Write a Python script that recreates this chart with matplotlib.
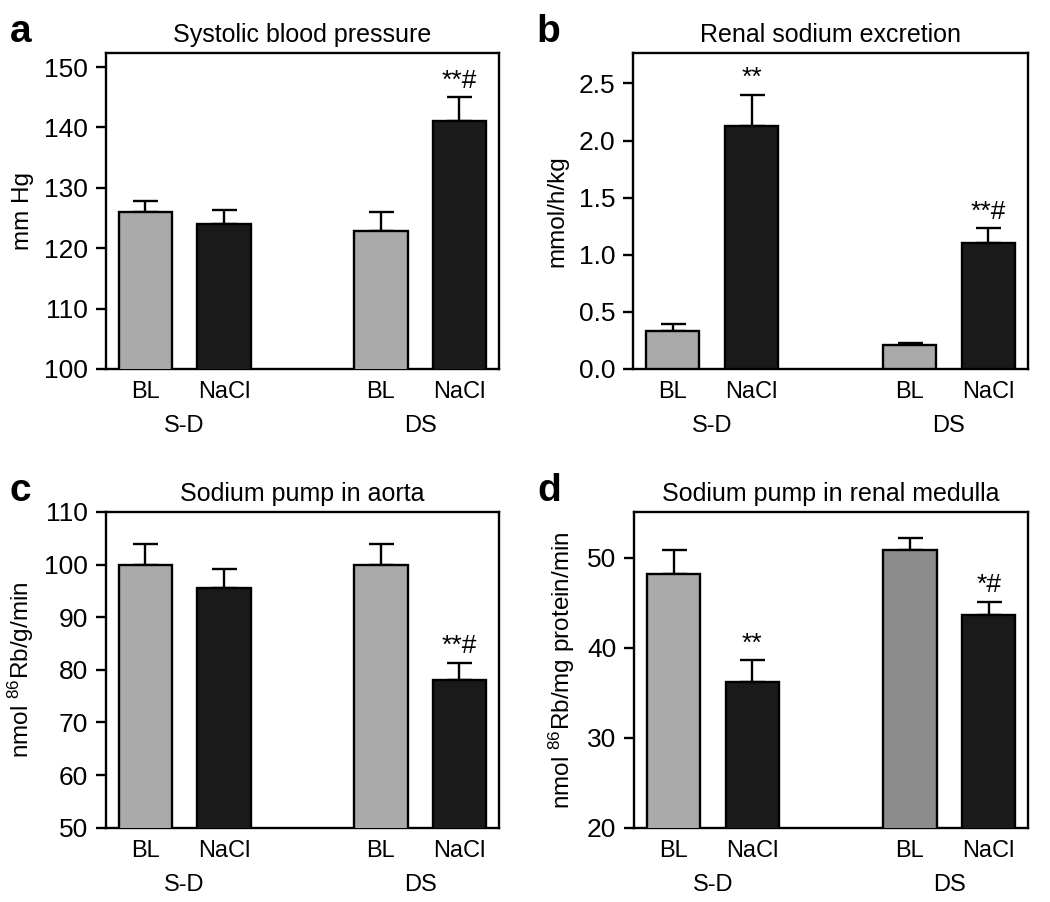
import matplotlib
matplotlib.use("Agg")
import matplotlib.pyplot as plt
import matplotlib.transforms as mtransforms

plt.rcParams['font.family'] = ['Liberation Sans', 'DejaVu Sans']
plt.rcParams['mathtext.default'] = 'regular'

# bar labels and groups
bar_labels = ["BL", "NaCl", "BL", "NaCl"]
group_labels = ["S-D", "DS"]

# values (mean, upper SEM end)
sbp = [126.0, 124.0, 122.9, 141.0]
sbp_top = [127.8, 126.4, 126.0, 145.0]

una = [0.33, 2.13, 0.21, 1.105]
una_top = [0.39, 2.40, 0.23, 1.23]

aorta = [100.0, 95.5, 100.0, 78.0]
aorta_top = [104.0, 99.1, 104.0, 81.3]

medulla = [48.15, 36.2, 50.9, 43.6]
medulla_top = [50.85, 38.6, 52.2, 45.1]

sig_a = ["", "", "", "**#"]
sig_b = ["", "**", "", "**#"]
sig_c = ["", "", "", "**#"]
sig_d = ["", "**", "", "*#"]

GRAY = "#aaaaaa"
DARKGRAY = "#8c8c8c"
BLACK = "#1a1a1a"

xpos = [0, 1, 3, 4]

fig = plt.figure(figsize=(10.5, 9.02), dpi=100)


def panel(rect, vals, tops, sig, title, letter, ylabel, ylim, yticks, fmt, colors, lpad):
    ax = fig.add_axes(rect)
    ax.bar(xpos, vals, width=0.68, color=colors, edgecolor="black", linewidth=1.7, zorder=3)
    up = [t - v for t, v in zip(tops, vals)]
    ax.errorbar(xpos, vals, yerr=[[0] * 4, up], fmt="none", ecolor="black",
                elinewidth=1.7, capsize=9, capthick=1.7, zorder=2)
    for x, t, s in zip(xpos, tops, sig):
        if s:
            ax.annotate(s, (x, t), xytext=(0, 7), textcoords="offset points",
                        ha="center", va="baseline", fontsize=19)
    ax.set_xlim(-0.5, 4.5)
    ax.set_ylim(*ylim)
    ax.set_yticks(yticks)
    ax.set_yticklabels([fmt.format(v) for v in yticks])
    ax.set_xticks(xpos)
    ax.set_xticklabels(bar_labels, fontsize=17)
    ax.tick_params(axis="x", length=0, pad=9)
    ax.tick_params(axis="y", direction="out", length=7, width=1.7, labelsize=19, pad=6)
    for sp in ax.spines.values():
        sp.set_linewidth(1.7)
    ax.set_ylabel(ylabel, fontsize=17.5, labelpad=lpad)
    ax.set_title(title, fontsize=18, pad=8)
    trans = mtransforms.blended_transform_factory(ax.transData, ax.transAxes)
    for gx, g in zip([0.5, 3.5], group_labels):
        ax.annotate(g, (gx, 0), xycoords=trans, xytext=(0, -41), textcoords="offset points",
                    ha="center", va="center", fontsize=17)
    fig.text(rect[0] - 0.092, rect[1] + rect[3] + 0.023, letter, fontsize=28,
             fontweight="bold", va="center", ha="left")
    return ax


panel([0.101, 0.591, 0.374, 0.350], sbp, sbp_top, sig_a, "Systolic blood pressure", "a",
      "mm Hg", (100, 152.3), [100, 110, 120, 130, 140, 150], "{:.0f}",
      [GRAY, BLACK, GRAY, BLACK], 7)
panel([0.603, 0.591, 0.376, 0.350], una, una_top, sig_b, "Renal sodium excretion", "b",
      "mmol/h/kg", (0, 2.765), [0.0, 0.5, 1.0, 1.5, 2.0, 2.5], "{:.1f}",
      [GRAY, BLACK, GRAY, BLACK], 7)
panel([0.101, 0.0824, 0.374, 0.350], aorta, aorta_top, sig_c, "Sodium pump in aorta", "c",
      "nmol $^{86}$Rb/g/min", (50, 110), [50, 60, 70, 80, 90, 100, 110], "{:.0f}",
      [GRAY, BLACK, GRAY, BLACK], 6)
panel([0.604, 0.0824, 0.375, 0.350], medulla, medulla_top, sig_d, "Sodium pump in renal medulla", "d",
      "nmol $^{86}$Rb/mg protein/min", (20, 55.1), [20, 30, 40, 50], "{:.0f}",
      [GRAY, BLACK, DARKGRAY, BLACK], 7)

fig.savefig("out.png", dpi=100)
